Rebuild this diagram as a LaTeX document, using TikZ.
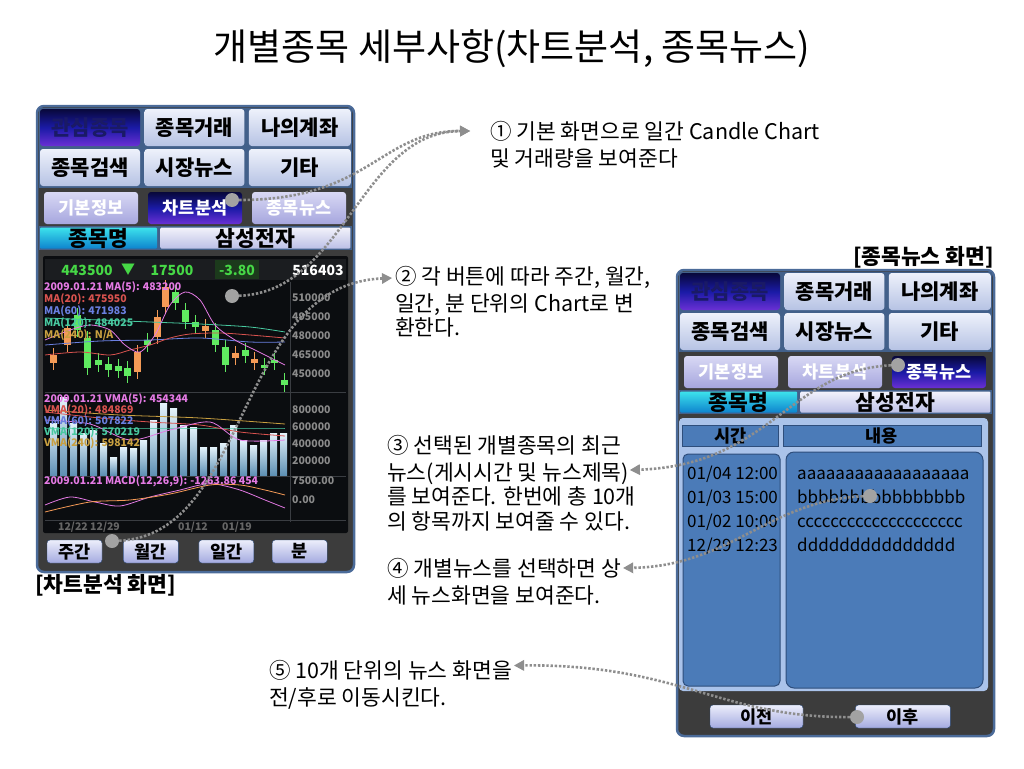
\documentclass[tikz,border=0pt]{standalone}
\usepackage{fontspec}
\setmainfont{Noto Sans CJK KR}
\usepackage{tikz}
\usetikzlibrary{arrows.meta, positioning}
\definecolor{frameblue}{HTML}{4B6B99}
\definecolor{body}{HTML}{3C3C3C}
\definecolor{menubg}{HTML}{42608A}
\definecolor{menutop}{HTML}{EEF1FB}
\definecolor{menubot}{HTML}{B6C3E4}
\definecolor{navytop}{HTML}{08083A}
\definecolor{navymid}{HTML}{1A1AA6}
\definecolor{navybot}{HTML}{6A30D4}
\definecolor{navytext}{HTML}{1A1A66}
\definecolor{lilactop}{HTML}{D8D8F4}
\definecolor{lilacbot}{HTML}{A6A6DE}
\definecolor{cyantop}{HTML}{3CE2EC}
\definecolor{cyanbot}{HTML}{0E84CE}
\definecolor{paletop}{HTML}{F2F2FB}
\definecolor{palebot}{HTML}{BCC0E6}
\definecolor{pilltop}{HTML}{ECEEFB}
\definecolor{pillbot}{HTML}{A4AAE0}
\definecolor{pilledge}{HTML}{2C4A78}
\definecolor{panelblue}{HTML}{AAC3EA}
\definecolor{listblue}{HTML}{4B7BB8}
\definecolor{listedge}{HTML}{2E4E7C}
\definecolor{dotgray}{HTML}{A2A2A2}
\definecolor{linegray}{HTML}{8E8E8E}
\definecolor{chartbg}{HTML}{0B0D10}
\definecolor{headbg}{HTML}{1B1D20}
\definecolor{minusbg}{HTML}{1C3A1C}
\definecolor{upgreen}{HTML}{46D846}
\definecolor{gridgray}{HTML}{3A3D42}
\definecolor{axisgray}{HTML}{8A8A8A}
\definecolor{dategray}{HTML}{666666}
\definecolor{candleup}{HTML}{F49A56}
\definecolor{candledn}{HTML}{60EA60}
\definecolor{maPink}{HTML}{E47AE4}
\definecolor{maRed}{HTML}{D9534F}
\definecolor{maBlue}{HTML}{6A7FE0}
\definecolor{maTeal}{HTML}{48C9A0}
\definecolor{maGold}{HTML}{C9A040}
\definecolor{barhi}{HTML}{E4F2FA}
\definecolor{barlo}{HTML}{5E90B4}
\newcommand*{\titlefont}{\fontsize{37}{42}\selectfont}
\newcommand*{\notefont}{\fontsize{21.5}{24.5}\selectfont}
\newcommand*{\menufont}{\fontsize{21}{24}\selectfont\bfseries}
\newcommand*{\keyfont}{\fontsize{21.5}{24}\selectfont\bfseries}
\newcommand*{\tabfont}{\fontsize{17.5}{20}\selectfont\bfseries}
\newcommand*{\pillfont}{\fontsize{17.5}{20}\selectfont\bfseries}
\newcommand*{\listfont}{\fontsize{17}{24}\selectfont}
\newcommand*{\captionfont}{\fontsize{21.5}{24}\selectfont\bfseries}
\newcommand*{\quotefont}{\fontsize{14}{16}\selectfont\bfseries}
\newcommand*{\chartfont}{\fontsize{10.5}{12}\selectfont\bfseries}
\tikzstyle{button} = [rectangle, rounded corners=3pt, inner sep=0pt]
\tikzstyle{menu} = [button, minimum width=100pt, minimum height=37pt, top color=menutop, bottom color=menubot, font=\menufont]
\tikzstyle{menuon} = [menu, top color=navytop, bottom color=navybot, middle color=navymid, text=navytext]
\tikzstyle{tab} = [button, minimum width=94pt, minimum height=32pt, top color=lilactop, bottom color=lilacbot, text=white, font=\tabfont]
\tikzstyle{tabon} = [tab, top color=navytop, bottom color=navybot, middle color=navymid]
\tikzstyle{stockkey} = [button, rounded corners=1pt, minimum width=117pt, minimum height=21pt, top color=cyantop, bottom color=cyanbot, font=\keyfont]
\tikzstyle{stockval} = [stockkey, minimum width=190pt, top color=paletop, bottom color=palebot]
\tikzstyle{pill} = [button, draw=pilledge, minimum width=55pt, minimum height=23pt, top color=pilltop, bottom color=pillbot, font=\pillfont]
\tikzstyle{phone} = [draw=frameblue, line width=2.5pt, fill=body, rounded corners=7pt]
\tikzstyle{colhead} = [rectangle, draw=listedge, fill=listblue, minimum height=21pt, inner sep=0pt, font=\tabfont]
\tikzstyle{newscol} = [draw=listedge, line width=1pt, fill=listblue, rounded corners=5pt]
\tikzstyle{rowtext} = [anchor=north west, align=left, inner sep=0pt, font=\listfont]
\tikzstyle{note} = [anchor=north west, align=left, inner sep=0pt, font=\notefont]
\tikzstyle{caption} = [inner sep=0pt, font=\captionfont]
\tikzstyle{hotspot} = [circle, fill=dotgray, minimum size=14pt, inner sep=0pt]
\tikzstyle{callout} = [draw=linegray, line width=2.6pt, dash pattern=on 2.4pt off 1.8pt, -{Triangle[length=10pt, width=11pt, line width=0pt, fill=linegray]}]
\tikzstyle{chartkey} = [anchor=west, inner sep=0pt, font=\chartfont]
\tikzstyle{axislab} = [anchor=west, inner sep=0pt, text=axisgray, font=\chartfont]

\begin{document}
\begin{tikzpicture}[x=1pt, y=-1pt, node distance=4pt]
    \useasboundingbox [fill=white] (0,0) rectangle (1024,768);

    % Title.
    \node (title) [font=\titlefont] at (512,49) {개별종목 세부사항(차트분석, 종목뉴스)};

    % Phone screens.
    \foreach \p/\dx/\dy/\sel in {L/0/0/2, R/640/164/3} {
        \begin{scope}[shift={(\dx,\dy)}]
            \draw [phone] (37,106) rectangle (354,572);
            \fill [menubg] (39,108) rectangle (352,188);
            \fill [menubg] (39,226) rectangle (352,250);

            \node (menu\p1) [menuon] at (90,127.5) {관심종목};
            \node (menu\p2) [menu, right=of menu\p1] {종목거래};
            \node (menu\p3) [menu, right=of menu\p2, minimum width=102pt] {나의계좌};
            \node (menu\p4) [menu] at (90,167.5) {종목검색};
            \node (menu\p5) [menu, right=of menu\p4] {시장뉴스};
            \node (menu\p6) [menu, right=of menu\p5, minimum width=102pt] {기타};

            \foreach \t [count=\i] in {기본정보, 차트분석, 종목뉴스} {
                \ifnum\i=\sel \def\tabkind{tabon}\else \def\tabkind{tab}\fi
                \node (tab\p\i) [\tabkind] at (104*\i-13,208) {\t};
            }

            \node (key\p) [stockkey] at (98.5,238) {종목명};
            \node (val\p) [stockval, right=3pt of key\p] {삼성전자};
        \end{scope}
    }

    % Chart.
    \fill [chartbg, rounded corners=2pt] (43,256) rectangle (348,533);
    \fill [headbg] (45,259) rectangle (346,280);
    \fill [minusbg] (215,260) rectangle (259,279);
    \foreach \t/\x/\c [count=\i] in {443500/87/upgreen, ▼/128/upgreen, 17500/172/upgreen, -3.80/237/upgreen, 516403/318/white} {
        \node (quote\i) [inner sep=0pt, text=\c, font=\quotefont] at (\x,270) {\t};
    }
    \draw [gridgray] (290,282) -- (290,522);
    \foreach \y in {392, 476, 520} {
        \draw [gridgray] (45,\y) -- (346,\y);
    }

    \foreach \x/\a/\b/\c in {53/355/363/candleup, 67/328/345/candleup, 77/315/330/candledn, 87/338/368/candledn,
            98/360/365/candledn, 108/364/370/candledn, 118/366/371/candledn, 127/368/376/candledn,
            137/352/372/candleup, 147/340/345/candledn, 157/317/337/candleup, 165/287/307/candleup,
            175/292/303/candledn, 185/310/322/candledn, 195/322/327/candledn, 205/326/331/candleup,
            215/330/345/candledn, 225/347/365/candledn, 235/353/358/candleup, 245/350/356/candledn,
            254/359/363/candleup, 264/365/368/candledn, 274/360/363/candledn, 284/380/385/candledn} {
        \draw [\c, line width=1pt] (\x,\a-7) -- (\x,\b+7);
        \fill [\c] (\x-3.5,\a) rectangle (\x+3.5,\b);
    }
    \draw [maTeal, thick] plot [smooth] coordinates {(45,318) (100,320) (150,322) (200,324) (250,327) (285,332)};
    \draw [maBlue, thick] plot [smooth] coordinates {(45,345) (100,341) (150,340) (200,338) (250,342) (285,342)};
    \draw [maRed, thick] plot [smooth] coordinates {(45,355) (80,352) (110,355) (130,350) (150,345) (170,338) (190,334) (220,333) (250,335) (285,338)};
    \draw [maPink, thick] plot [smooth] coordinates {(45,340) (70,330) (90,325) (110,330) (125,345) (140,352) (155,335) (170,305) (185,292) (200,300) (215,325) (235,340) (255,350) (275,360) (285,365)};

    \foreach \h [count=\i] in {423, 397, 423, 433, 430, 443, 457, 447, 448, 440, 420, 403,
            408, 425, 427, 447, 447, 443, 425, 440, 445, 440, 433, 433} {
        \shade [top color=barhi, bottom color=barlo] (40+10*\i,\h) rectangle (47+10*\i,475);
    }
    \draw [maGold, thick] plot [smooth] coordinates {(45,410) (120,415) (200,418) (285,424)};
    \draw [maTeal, thick] plot [smooth] coordinates {(45,428) (150,428) (220,428) (285,428)};
    \draw [maRed, thick] plot [smooth] coordinates {(45,412) (100,418) (150,422) (200,425) (240,432) (285,436)};
    \draw [maPink, thick] plot [smooth] coordinates {(45,420) (90,424) (130,440) (170,430) (210,422) (240,440) (285,440)};

    \draw [maPink, thick] plot [smooth] coordinates {(45,505) (70,497) (95,502) (120,506) (150,497) (180,490) (200,485) (215,484) (240,490) (265,500) (285,508)};
    \draw [candleup, thick] plot [smooth] coordinates {(45,512) (90,502) (130,500) (170,494) (210,485) (240,485) (265,490) (285,495)};

    \foreach \t/\c [count=\i] in {2009.01.21 MA(5): 483200/maPink, MA(20): 475950/maRed, MA(60): 471983/maBlue,
            MA(120): 484025/maTeal, {MA(240): N/A}/maGold} {
        \node (pkey\i) [chartkey, text=\c] at (44,275+12*\i) {\t};
    }
    \foreach \t/\c [count=\i] in {2009.01.21 VMA(5): 454344/maPink, VMA(20): 484869/maRed, VMA(60): 507822/maBlue,
            VMA(120): 570219/maTeal, VMA(240): 598142/maGold} {
        \node (vkey\i) [chartkey, text=\c] at (44,388+11*\i) {\t};
    }
    \node (mkey) [chartkey, text=maPink] at (44,481) {2009.01.21 MACD(12,26,9): -1263.86 454};

    \foreach \t [count=\i] in {510000, 495000, 480000, 465000, 450000} {
        \node (pax\i) [axislab] at (292,279+19*\i) {\t};
    }
    \foreach \t [count=\i] in {800000, 600000, 400000, 200000} {
        \node (vax\i) [axislab] at (292,393+17*\i) {\t};
    }
    \node (max1) [axislab] at (292,481) {7500.00};
    \node (max2) [axislab] at (292,500) {0.00};
    \foreach \t/\x [count=\i] in {{12/22 12/29}/58, {01/12}/178, {01/19}/222} {
        \node (date\i) [axislab, text=dategray] at (\x,527) {\t};
    }

    % Chart period buttons.
    \node (week) [pill] at (74.5,551.5) {주간};
    \node (month) [pill, right=21pt of week] {월간};
    \node (day) [pill, right=20pt of month] {일간};
    \node (minute) [pill, right=18pt of day] {분};

    % News list.
    \fill [panelblue, rounded corners=4pt] (679,418) rectangle (988,691);
    \node (colTime) [colhead, minimum width=96pt] at (730.5,436) {시간};
    \node (colText) [colhead, minimum width=198pt, right=of colTime] {내용};
    \draw [newscol] (683,454) rectangle (780,686);
    \draw [newscol, rounded corners=8pt] (786,452) rectangle (983,688);
    \node (times) [rowtext] at (687,462) {\strut 01/04 12:00\\01/03 15:00\\01/02 10:00\\12/29 12:23};
    \node (titles) [rowtext] at (797,462) {\strut aaaaaaaaaaaaaaaaaa\\bbbbbbbbbbbbbbbb\\cccccccccccccccccccc\\ddddddddddddddd};

    \node (prev) [pill, minimum width=93pt] at (756.5,716.5) {이전};
    \node (next) [pill, minimum width=95pt, right=52pt of prev] {이후};

    % Captions.
    \node (capL) [caption, anchor=west] at (35,585) {[차트분석 화면]};
    \node (capR) [caption, anchor=east] at (994,257) {[종목뉴스 화면]};

    % Notes.
    \node (note1) [note] at (490,121.5) {\strut① 기본 화면으로 일간 Candle Chart\\및 거래량을 보여준다};
    \node (note2) [note] at (395,266.5) {\strut② 각 버튼에 따라 주간, 월간,\\일간, 분 단위의 Chart로 변\\환한다.};
    \node (note3) [note] at (387,435.5) {\strut③ 선택된 개별종목의 최근\\뉴스(게시시간 및 뉴스제목)\\를 보여준다. 한번에 총 10개\\의 항목까지 보여줄 수 있다.};
    \node (note4) [note] at (387,558.5) {\strut④ 개별뉴스를 선택하면 상\\세 뉴스화면을 보여준다.};
    \node (note5) [note] at (269,660.5) {\strut⑤ 10개 단위의 뉴스 화면을\\전/후로 이동시킨다.};

    \coordinate (tip1) at ([xshift=-20pt, yshift=-9.5pt]note1.north west);
    \coordinate (tip2) at ([xshift=-3pt, yshift=-11.5pt]note2.north west);
    \coordinate (tip3) at ([xshift=-6pt, yshift=-34.5pt]note3.north east);
    \coordinate (tip4) at ([xshift=2pt, yshift=-9.5pt]note4.north east);
    \coordinate (tip5) at ([xshift=2pt, yshift=-5pt]note5.north east);

    % Hot spots.
    \node (dotTab) [hotspot] at (232,200) {};
    \node (dotChart) [hotspot] at (232,296) {};
    \node (dotWeek) [hotspot] at (112,541) {};
    \node (dotNews) [hotspot] at (898,365) {};
    \node (dotItem) [hotspot] at (870,496) {};
    \node (dotNext) [hotspot] at (857,717) {};

    % Arrows.
    \draw [callout] (dotTab) .. controls (370,200) and (380,131) .. (tip1);
    \draw [callout] (dotChart) .. controls (345,292) and (360,132) .. (tip1);
    \draw [callout] (dotWeek) .. controls (250,535) and (235,285) .. (tip2);
    \draw [callout] (dotNews) .. controls (790,370) and (770,465) .. (tip3);
    \draw [callout] (dotItem) .. controls (770,500) and (730,566) .. (tip4);
    \draw [callout] (dotNext) .. controls (720,718) and (680,664) .. (tip5);
\end{tikzpicture}
\end{document}
